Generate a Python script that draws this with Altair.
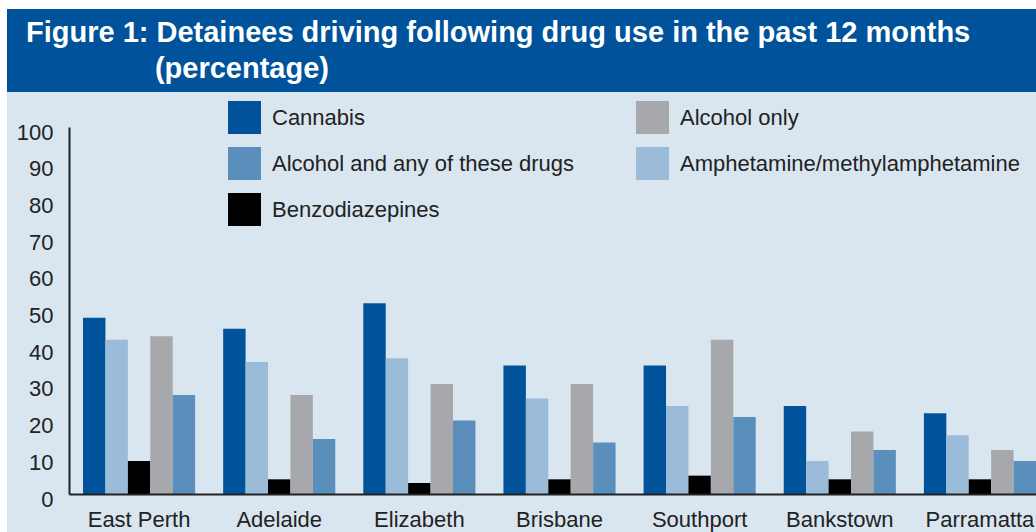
import altair as alt
import pandas as pd

cities = ["East Perth", "Adelaide", "Elizabeth", "Brisbane", "Southport", "Bankstown", "Parramatta"]

cannabis = [48, 45, 52, 35, 35, 24, 22]
amphetamine = [42, 36, 37, 26, 24, 9, 16]
benzodiazepines = [9, 4, 3, 4, 5, 4, 4]
alcohol_only = [43, 27, 30, 30, 42, 17, 12]
alcohol_any = [27, 15, 20, 14, 21, 12, 9]

series_names = {
    "Cannabis": cannabis,
    "Amphetamine/methylamphetamine": amphetamine,
    "Benzodiazepines": benzodiazepines,
    "Alcohol only": alcohol_only,
    "Alcohol and any of these drugs": alcohol_any,
}
bar_order = ["Cannabis", "Amphetamine/methylamphetamine", "Benzodiazepines",
             "Alcohol only", "Alcohol and any of these drugs"]
# legend fills column by column (3 rows, 2 columns)
legend_order = ["Cannabis", "Alcohol and any of these drugs", "Benzodiazepines",
                "Alcohol only", "Amphetamine/methylamphetamine"]
legend_colors = ["#00539b", "#5a8fbc", "#000000", "#a7a8ab", "#9bbcd9"]

rows = []
for name, vals in series_names.items():
    for c, v in zip(cities, vals):
        rows.append({"city": c, "drug": name, "value": v})
df = pd.DataFrame(rows)

W, H = 967, 367
FONT = "Liberation Sans"

one = alt.Data(values=[{"k": 1}])
bg = alt.Chart(one).mark_rect(color="#d9e5ef").encode(
    x=alt.value(-62), x2=alt.value(W + 20), y=alt.value(-35), y2=alt.value(H + 60)
)
header = alt.Chart(one).mark_rect(color="#00539b").encode(
    x=alt.value(-62), x2=alt.value(W + 20), y=alt.value(-118), y2=alt.value(-35)
)

bars = alt.Chart(df).mark_bar().encode(
    x=alt.X("city:N", sort=cities,
            scale=alt.Scale(paddingInner=0.2, paddingOuter=0.05, align=1),
            axis=alt.Axis(title=None, labelAngle=0, ticks=False, tickSize=0,
                          labelPadding=15, labelFont=FONT, labelFontSize=22,
                          labelColor="#222222", domainColor="#222222",
                          domainWidth=2, zindex=1)),
    xOffset=alt.XOffset("drug:N", sort=bar_order),
    y=alt.Y("value:Q", scale=alt.Scale(domain=[0, 100]),
            axis=alt.Axis(title=None, values=list(range(0, 101, 10)), grid=False,
                          ticks=False, tickSize=0, labelPadding=16, labelOffset=5,
                          labelFont=FONT, labelFontSize=22, labelColor="#222222",
                          domainColor="#222222", domainWidth=2, zindex=1)),
    color=alt.Color("drug:N", scale=alt.Scale(domain=legend_order, range=legend_colors),
                    legend=alt.Legend(title=None, orient="none", legendX=159, legendY=-26,
                                      columns=2, symbolType="square", symbolSize=1089,
                                      symbolStrokeWidth=0, labelFont=FONT,
                                      labelFontSize=22, labelColor="#222222",
                                      labelOffset=11, rowPadding=13, columnPadding=61,
                                      labelLimit=0, zindex=1)),
)

title_lines = [
    "Figure 1: Detainees driving following drug use in the past 12 months",
    "\u200b" + "\u00a0" * 16 + "(percentage)",
]

chart = alt.layer(bg, header, bars).properties(
    width=W,
    height=H,
    padding={"left": 69, "top": 127, "right": 0, "bottom": 38},
    autosize=alt.AutoSizeParams(type="none"),
    title=alt.TitleParams(text=title_lines, anchor="start", frame="group",
                          font=FONT, fontSize=29, fontWeight="bold", color="white",
                          lineHeight=36, dx=-43, dy=75, offset=0, baseline="top",
                          zindex=1),
).configure(background="white").configure_view(stroke=None)

chart.save("out.html", embed_options={"renderer": "svg", "actions": False})
